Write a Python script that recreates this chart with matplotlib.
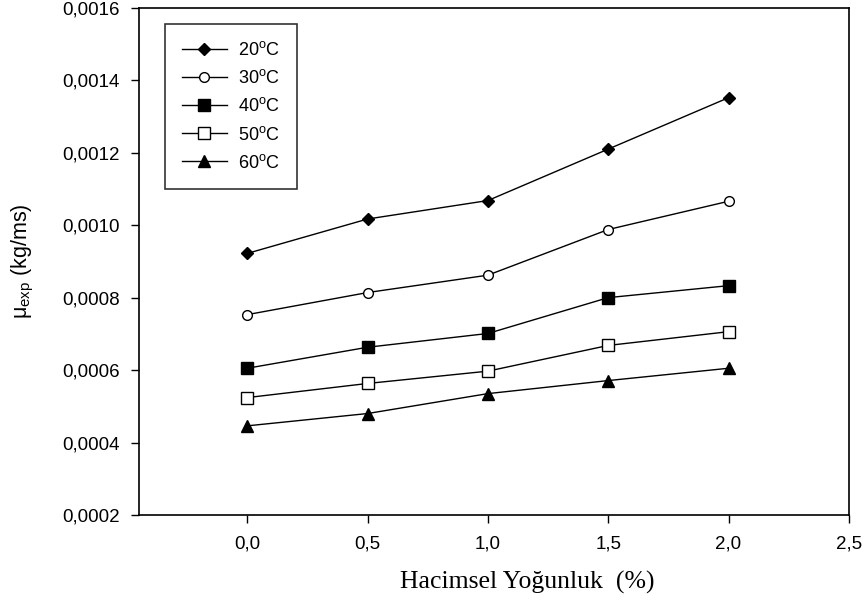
import numpy as np
import matplotlib
matplotlib.use("Agg")
import matplotlib.pyplot as plt
from matplotlib.ticker import FuncFormatter, MultipleLocator

# volume fraction (%)
x = [0.0, 0.5, 1.0, 1.5, 2.0]
# viscosity values per temperature (kg/ms)
mu_20 = [0.000922, 0.001017, 0.001068, 0.001210, 0.001352]
mu_30 = [0.000753, 0.000814, 0.000862, 0.000988, 0.001066]
mu_40 = [0.000605, 0.000663, 0.000701, 0.000800, 0.000833]
mu_50 = [0.000524, 0.000563, 0.000597, 0.000668, 0.000706]
mu_60 = [0.000446, 0.000480, 0.000535, 0.000571, 0.000605]
labels = ["20", "30", "40", "50", "60"]

plt.rcParams["font.family"] = ["Liberation Sans", "DejaVu Sans"]
plt.rcParams["mathtext.fontset"] = "custom"
plt.rcParams["mathtext.rm"] = "Liberation Sans"

fig = plt.figure(figsize=(8.68, 6.03), dpi=100)
ax = fig.add_axes([0.160, 0.146, 0.818, 0.841])

series = [mu_20, mu_30, mu_40, mu_50, mu_60]
markers = ["D", "o", "s", "s", "^"]
faces = ["black", "white", "black", "white", "black"]
sizes = [6.5, 7, 8, 8, 8]
for vals, m, fc, ms, t in zip(series, markers, faces, sizes, labels):
    ax.plot(x, vals, color="black", lw=1, marker=m, ms=ms, mfc=fc, mec="black",
            mew=1, label=t + r"$^{\mathregular{o}}$C")

ax.set_xlim(-0.45, 2.5)
ax.set_ylim(0.0002, 0.0016)
ax.xaxis.set_major_locator(MultipleLocator(0.5))
ax.yaxis.set_major_locator(MultipleLocator(0.0002))
ax.xaxis.set_major_formatter(FuncFormatter(lambda v, p: f"{v:.1f}".replace(".", ",")))
ax.yaxis.set_major_formatter(FuncFormatter(lambda v, p: f"{v:.4f}".replace(".", ",")))
ax.tick_params(direction="out", length=6, width=1, labelsize=13.5, pad=8)
ax.tick_params(axis="x", pad=9)
for s in ax.spines.values():
    s.set_linewidth(1.2)

ax.set_xlabel("Hacimsel Yoğunluk  (%)", family="Liberation Serif", fontsize=18.5)
ax.xaxis.set_label_coords(0.547, -0.111)
ax.set_ylabel(r"μ$_{\mathregular{exp}}$ (kg/ms)", fontsize=15.5)
ax.yaxis.set_label_coords(-0.145, 0.501)

leg = ax.legend(loc="upper left", bbox_to_anchor=(0.037, 0.968), borderaxespad=0,
                frameon=True, fancybox=False, edgecolor="black", fontsize=13,
                handlelength=2.45, labelspacing=0.56, borderpad=0.95, handletextpad=0.65)
leg.get_frame().set_linewidth(1.2)

fig.savefig("out.png", dpi=100)
